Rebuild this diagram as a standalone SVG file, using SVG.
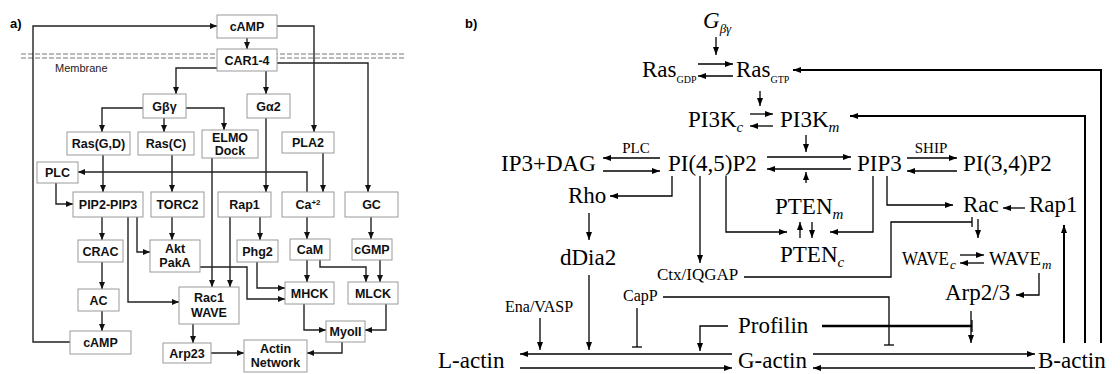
<svg xmlns="http://www.w3.org/2000/svg" width="1120" height="374" viewBox="0 0 1120 374">
<style>
.bx{fill:#fff;stroke:#9a9a9a;stroke-width:1}
.lb{font-family:"Liberation Sans",Arial,sans-serif;font-weight:bold;font-size:12.5px;fill:#111;text-anchor:middle}
.ca{fill:none;stroke:#222;stroke-width:1.4}
.cb{fill:none;stroke:#000;stroke-width:1.3}
.thick{stroke-width:2}
.tb{font-family:"Liberation Serif","Times New Roman",serif;font-size:23px;fill:#000}
.ts{font-family:"Liberation Serif","Times New Roman",serif;font-size:16px;fill:#000}
.mem{fill:none;stroke:#777;stroke-width:1;stroke-dasharray:5,2}
</style>
<defs>
<marker id="ah" viewBox="0 0 7 6" refX="7" refY="3" markerWidth="7" markerHeight="6" markerUnits="userSpaceOnUse" orient="auto"><path d="M0,0 L7,3 L0,6 z" fill="#111"/></marker>
<marker id="bh" viewBox="0 0 8 6" refX="8" refY="3" markerWidth="8" markerHeight="6" markerUnits="userSpaceOnUse" orient="auto"><path d="M0,0 L8,3 L0,6 z" fill="#000"/></marker>
</defs>
<rect width="1120" height="374" fill="#fff"/>

<!-- Panel labels -->
<text x="10" y="28" style="font-family:'Liberation Sans',Arial,sans-serif;font-weight:bold;font-size:13px">a)</text>
<text x="465" y="28" style="font-family:'Liberation Sans',Arial,sans-serif;font-weight:bold;font-size:13px">b)</text>

<!-- Membrane -->
<g id="membrane">
<line class="mem" x1="21" y1="54" x2="406" y2="54"/>
<line class="mem" x1="21" y1="58" x2="406" y2="58"/>
<text x="55" y="72" style="font-family:'Liberation Sans',Arial,sans-serif;font-size:11px;fill:#222">Membrane</text>
</g>

<!-- Panel a connectors -->
<g id="connectors-a" class="ca" marker-end="url(#ah)">
<path d="M70,342 H33 V26 H217"/>
<path d="M277,26 H314 V132"/>
<path d="M247,38 V49"/>
<path d="M217,68 H176 V94"/>
<path d="M266,71 V94"/>
<path d="M277,63 H368 V192"/>
<path d="M143,108 H102 V132"/>
<path d="M164,118 V132"/>
<path d="M186,108 H224 V130"/>
<path d="M103,155 V192"/>
<path d="M172,155 V192"/>
<path d="M212,158 V287"/>
<path d="M266,118 V192"/>
<path d="M323,153 V192"/>
<path d="M307,192 V172 H78"/>
<path d="M56,183 V204 H73"/>
<path d="M102,217 V240"/>
<path d="M102,262 V289"/>
<path d="M102,311 V331"/>
<path d="M137,217 V252 H150"/>
<path d="M128,217 V302 H179"/>
<path d="M172,217 V240"/>
<path d="M230,217 V287"/>
<path d="M260,217 V240"/>
<path d="M257,262 V288 H285"/>
<path d="M200,267 H247 V299 H285"/>
<path d="M307,217 V239"/>
<path d="M307,260 V282"/>
<path d="M320,260 V267 H366 V282"/>
<path d="M371,217 V239"/>
<path d="M380,260 V282"/>
<path d="M304,304 V330 H326"/>
<path d="M386,304 V330 H365"/>
<path d="M193,324 V343"/>
<path d="M211,353 H244"/>
<path d="M342,342 V353 H307"/>
</g>

<!-- Panel a nodes -->
<g id="a-cAMP-top"><rect class="bx" x="217" y="15" width="60" height="23"/><text class="lb" x="247" y="31">cAMP</text></g>
<g id="a-CAR"><rect class="bx" x="217" y="49" width="60" height="22"/><text class="lb" x="247" y="64.5">CAR1-4</text></g>
<g id="a-Gbg"><rect class="bx" x="143" y="94" width="43" height="24"/><text class="lb" x="164.5" y="110.5">Gβγ</text></g>
<g id="a-Ga2"><rect class="bx" x="247" y="94" width="43" height="24"/><text class="lb" x="268.5" y="110.5">Gα2</text></g>
<g id="a-RasGD"><rect class="bx" x="67" y="132" width="63" height="23"/><text class="lb" x="98.5" y="148">Ras(G,D)</text></g>
<g id="a-RasC"><rect class="bx" x="138" y="132" width="56" height="23"/><text class="lb" x="166" y="148">Ras(C)</text></g>
<g id="a-ELMO"><rect class="bx" x="202" y="130" width="56" height="28"/><text class="lb" x="230" y="142">ELMO</text><text class="lb" x="230" y="155">Dock</text></g>
<g id="a-PLA2"><rect class="bx" x="282" y="132" width="52" height="21"/><text class="lb" x="308" y="147">PLA2</text></g>
<g id="a-PLC"><rect class="bx" x="37" y="162" width="41" height="21"/><text class="lb" x="57.5" y="177">PLC</text></g>
<g id="a-PIP2PIP3"><rect class="bx" x="73" y="192" width="70" height="25"/><text class="lb" x="108" y="209">PIP2-PIP3</text></g>
<g id="a-TORC2"><rect class="bx" x="151" y="192" width="53" height="25"/><text class="lb" x="177.5" y="209">TORC2</text></g>
<g id="a-Rap1"><rect class="bx" x="218" y="192" width="53" height="25"/><text class="lb" x="244.5" y="209">Rap1</text></g>
<g id="a-Ca"><rect class="bx" x="282" y="192" width="52" height="25"/><text class="lb" x="308" y="209">Ca<tspan font-size="8" dy="-4">+2</tspan></text></g>
<g id="a-GC"><rect class="bx" x="345" y="192" width="53" height="25"/><text class="lb" x="371.5" y="209">GC</text></g>
<g id="a-CRAC"><rect class="bx" x="78" y="240" width="45" height="22"/><text class="lb" x="100.5" y="255.5">CRAC</text></g>
<g id="a-Akt"><rect class="bx" x="150" y="240" width="50" height="32"/><text class="lb" x="175" y="253">Akt</text><text class="lb" x="175" y="267">PakA</text></g>
<g id="a-Phg2"><rect class="bx" x="237" y="240" width="41" height="22"/><text class="lb" x="257.5" y="255.5">Phg2</text></g>
<g id="a-CaM"><rect class="bx" x="290" y="239" width="40" height="21"/><text class="lb" x="310" y="254">CaM</text></g>
<g id="a-cGMP"><rect class="bx" x="352" y="239" width="40" height="21"/><text class="lb" x="372" y="254">cGMP</text></g>
<g id="a-AC"><rect class="bx" x="78" y="289" width="41" height="22"/><text class="lb" x="98.5" y="304.5">AC</text></g>
<g id="a-Rac1"><rect class="bx" x="179" y="287" width="60" height="37"/><text class="lb" x="209" y="302">Rac1</text><text class="lb" x="209" y="317">WAVE</text></g>
<g id="a-MHCK"><rect class="bx" x="285" y="282" width="49" height="22"/><text class="lb" x="309.5" y="297.5">MHCK</text></g>
<g id="a-MLCK"><rect class="bx" x="348" y="282" width="50" height="22"/><text class="lb" x="373" y="297.5">MLCK</text></g>
<g id="a-cAMP-bottom"><rect class="bx" x="70" y="331" width="61" height="23"/><text class="lb" x="100.5" y="347">cAMP</text></g>
<g id="a-MyoII"><rect class="bx" x="326" y="321" width="39" height="21"/><text class="lb" x="345.5" y="336">MyoII</text></g>
<g id="a-Arp23"><rect class="bx" x="163" y="343" width="48" height="20"/><text class="lb" x="187" y="357.5">Arp23</text></g>
<g id="a-Actin"><rect class="bx" x="244" y="340" width="63" height="32"/><text class="lb" x="275.5" y="353">Actin</text><text class="lb" x="275.5" y="367">Network</text></g>

<!-- Panel b connectors -->
<g id="connectors-b" class="cb">
<g marker-end="url(#bh)">
<path d="M716,37 V55"/>
<path d="M698,64 H733"/>
<path d="M733,76 H698"/>
<path class="thick" d="M1101,343 V70 H793"/>
<path d="M760,91 V106"/>
<path d="M750,114 H773"/>
<path d="M773,126 H750"/>
<path class="thick" d="M1085,343 V116 H850"/>
<path d="M806,135 V152"/>
<path d="M767,157 H851"/>
<path d="M851,169 H767"/>
<path d="M806,183 V172"/>
<path d="M660,158 H603"/>
<path d="M603,171 H660"/>
<path d="M907,158 H957"/>
<path d="M957,171 H907"/>
<path d="M672,176 V196 H610"/>
<path d="M589,213 V240"/>
<path d="M589,275 V350"/>
<path d="M700,176 V263"/>
<path d="M726,176 V232 H787"/>
<path d="M873,176 V232 H830"/>
<path d="M800,238 V222"/>
<path d="M812,222 V238"/>
<path d="M887,176 V205 H953"/>
<path d="M1025,208 H1003"/>
<path d="M978,219 V238"/>
<path d="M960,255 H984"/>
<path d="M984,263 H960"/>
<path d="M1039,273 V295 H1016"/>
<path d="M971,311 V343"/>
<path d="M728,326 H700 V351"/>
<path d="M540,318 V350"/>
<path d="M732,354 H520"/>
<path d="M520,368 H732"/>
<path d="M813,354 H1035"/>
<path d="M1035,368 H813"/>
<path class="thick" d="M1064,343 V225"/>
</g>
<path d="M744,277 H891 V222 H972"/>
<path d="M972,217 V227"/>
<path d="M822,326 H972" stroke-width="2.5"/>
<path d="M972,320 V332"/>
<path d="M663,297 H889 V345"/>
<path d="M884,345 H894"/>
<path d="M637,308 V347"/>
<path d="M632,347 H642"/>
</g>

<!-- Panel b nodes -->
<g id="b-Gbg"><text class="tb" x="703" y="28" font-style="italic">G<tspan font-size="13" dy="5">βγ</tspan></text></g>
<g id="b-RasGDP"><text class="tb" x="642" y="77">Ras<tspan font-size="10" dy="6">GDP</tspan></text></g>
<g id="b-RasGTP"><text class="tb" x="736" y="77">Ras<tspan font-size="10" dy="6">GTP</tspan></text></g>
<g id="b-PI3Kc"><text class="tb" x="688" y="127">PI3K<tspan font-size="15" font-style="italic" dy="5">c</tspan></text></g>
<g id="b-PI3Km"><text class="tb" x="780" y="127">PI3K<tspan font-size="15" font-style="italic" dy="5">m</tspan></text></g>
<g id="b-IP3DAG"><text class="tb" x="501" y="171">IP3+DAG</text></g>
<g id="b-PLC"><text class="ts" x="636" y="153" text-anchor="middle" style="font-size:15px">PLC</text></g>
<g id="b-PI45P2"><text class="tb" x="668" y="171">PI(4,5)P2</text></g>
<g id="b-PIP3"><text class="tb" x="857" y="171">PIP3</text></g>
<g id="b-SHIP"><text class="ts" x="931" y="153" text-anchor="middle" style="font-size:15px">SHIP</text></g>
<g id="b-PI34P2"><text class="tb" x="963" y="171">PI(3,4)P2</text></g>
<g id="b-Rho"><text class="tb" x="568" y="203">Rho</text></g>
<g id="b-dDia2"><text class="tb" x="560" y="265">dDia2</text></g>
<g id="b-PTENm"><text class="tb" x="775" y="214">PTEN<tspan font-size="15" font-style="italic" dy="5">m</tspan></text></g>
<g id="b-PTENc"><text class="tb" x="780" y="262">PTEN<tspan font-size="15" font-style="italic" dy="5">c</tspan></text></g>
<g id="b-Rac"><text class="tb" x="963" y="212">Rac</text></g>
<g id="b-Rap1"><text class="tb" x="1029" y="212">Rap1</text></g>
<g id="b-WAVEc"><text class="tb" x="902" y="265" style="font-size:18px" textLength="47" lengthAdjust="spacingAndGlyphs">WAVE</text><text class="tb" x="950" y="269" style="font-size:13px;font-style:italic">c</text></g>
<g id="b-WAVEm"><text class="tb" x="989" y="265" style="font-size:18px" textLength="52" lengthAdjust="spacingAndGlyphs">WAVE</text><text class="tb" x="1042" y="269" style="font-size:13px;font-style:italic">m</text></g>
<g id="b-Ctx"><text class="ts" x="657" y="280" style="font-size:17px">Ctx/IQGAP</text></g>
<g id="b-Arp23"><text class="tb" x="945" y="300">Arp2/3</text></g>
<g id="b-CapP"><text class="ts" x="623" y="301">CapP</text></g>
<g id="b-EnaVASP"><text class="ts" x="505" y="312">Ena/VASP</text></g>
<g id="b-Profilin"><text class="tb" x="738" y="333">Profilin</text></g>
<g id="b-Lactin"><text class="tb" x="438" y="368">L-actin</text></g>
<g id="b-Gactin"><text class="tb" x="738" y="368">G-actin</text></g>
<g id="b-Bactin"><text class="tb" x="1038" y="368">B-actin</text></g>
</svg>
